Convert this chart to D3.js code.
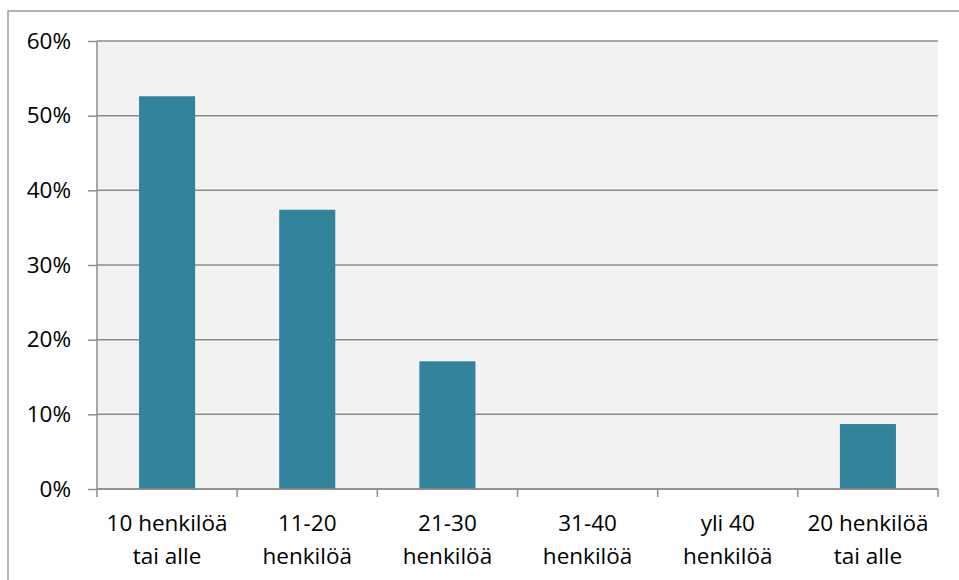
<!DOCTYPE html>
<html>
<head>
<meta charset="utf-8">
<script src="https://cdn.jsdelivr.net/npm/d3@7"></script>
<style>
  html, body { margin: 0; padding: 0; background: #ffffff; }
  svg { display: block; }
  text { font-family: "Open Sans", "Noto Sans", sans-serif; fill: #000; }
</style>
</head>
<body>
<svg id="chart" width="959" height="580"></svg>
<script>
// Group-size categories (two lines per label)
const categories = [
  ["10 henkilöä", "tai alle"],
  ["11-20", "henkilöä"],
  ["21-30", "henkilöä"],
  ["31-40", "henkilöä"],
  ["yli 40", "henkilöä"],
  ["20 henkilöä", "tai alle"]
];
// Share of responses per category
const values = [0.526, 0.374, 0.171, 0, 0, 0.087];
// Y axis ticks
const yTicks = [0, 0.1, 0.2, 0.3, 0.4, 0.5, 0.6];

const svg = d3.select("#chart");
const W = 959, H = 580;
const plot = { left: 97, top: 41, right: 938, bottom: 489 };

// Outer chart frame (runs past the right and bottom edges)
svg.append("rect")
  .attr("x", 8).attr("y", 11)
  .attr("width", W + 10).attr("height", H + 10)
  .attr("fill", "#ffffff")
  .attr("stroke", "#9a9a9a").attr("stroke-width", 1.5);

// Plot area background
svg.append("rect")
  .attr("x", plot.left).attr("y", plot.top)
  .attr("width", plot.right - plot.left).attr("height", plot.bottom - plot.top)
  .attr("fill", "#f2f2f2");

const x = d3.scaleBand()
  .domain(d3.range(categories.length))
  .range([plot.left, plot.right])
  .paddingInner(0.6).paddingOuter(0.3);

const xOuter = d3.scaleBand()
  .domain(d3.range(categories.length))
  .range([plot.left, plot.right]);

const y = d3.scaleLinear().domain([0, 0.6]).range([plot.bottom, plot.top]);

// Horizontal gridlines
svg.append("g")
  .selectAll("line")
  .data(yTicks)
  .join("line")
  .attr("x1", plot.left).attr("x2", plot.right)
  .attr("y1", d => y(d)).attr("y2", d => y(d))
  .attr("stroke", "#8c8c8c").attr("stroke-width", 1.5);

// Y axis
const yAxis = d3.axisLeft(y)
  .tickValues(yTicks)
  .tickFormat(d3.format(".0%"))
  .tickSize(9).tickPadding(17);
const gy = svg.append("g")
  .attr("transform", `translate(${plot.left},0)`)
  .call(yAxis);
gy.select(".domain").attr("stroke", "#8c8c8c").attr("stroke-width", 1.5)
  .attr("d", `M0,${plot.bottom}V${plot.top}`);
gy.selectAll(".tick line").attr("stroke", "#8c8c8c").attr("stroke-width", 1.5);
gy.selectAll(".tick text")
  .style("font-family", "'Open Sans', sans-serif")
  .style("font-size", "22.5px").attr("fill", "#000");

// Bars
svg.append("g")
  .selectAll("rect")
  .data(values)
  .join("rect")
  .attr("x", (d, i) => x(i))
  .attr("width", x.bandwidth())
  .attr("y", d => y(d))
  .attr("height", d => plot.bottom - y(d))
  .attr("fill", "#31849b");

// X axis: baseline and category-boundary ticks
const gx = svg.append("g");
gx.append("line")
  .attr("x1", plot.left).attr("x2", plot.right)
  .attr("y1", plot.bottom).attr("y2", plot.bottom)
  .attr("stroke", "#8c8c8c").attr("stroke-width", 1.5);
const boundaries = d3.range(categories.length + 1).map(i =>
  i < categories.length ? xOuter(i) : plot.right);
gx.selectAll("line.tick")
  .data(boundaries)
  .join("line")
  .attr("class", "tick")
  .attr("x1", d => d).attr("x2", d => d)
  .attr("y1", plot.bottom).attr("y2", plot.bottom + 8)
  .attr("stroke", "#8c8c8c").attr("stroke-width", 1.5);

// Category labels
const labels = gx.selectAll("text.cat")
  .data(categories)
  .join("text")
  .attr("class", "cat")
  .attr("text-anchor", "middle")
  .style("font-size", "22.5px");
labels.each(function(lines, i) {
  const t = d3.select(this);
  lines.forEach((ln, k) => {
    t.append("tspan")
      .attr("x", xOuter(i) + xOuter.bandwidth() / 2)
      .attr("y", 531 + k * 33)
      .text(ln);
  });
});
</script>
</body>
</html>
